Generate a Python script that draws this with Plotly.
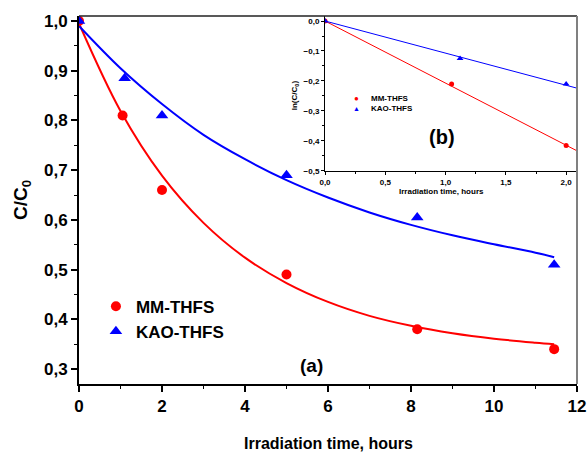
import plotly.graph_objects as go

# ---- main panel (a) data ----
time_mm = [0, 1.05, 2.0, 5.0, 8.15, 11.45]
cc0_mm = [1.0, 0.81, 0.66, 0.49, 0.38, 0.34]
time_kao = [0, 1.1, 2.0, 5.0, 8.15, 11.45]
cc0_kao = [1.0, 0.885, 0.81, 0.69, 0.605, 0.51]

fit_time = [0, 1, 2, 3, 4, 5, 6, 7, 8, 9, 10, 11, 11.45]
fit_mm = [0.995, 0.819, 0.689, 0.594, 0.524, 0.473, 0.435, 0.407, 0.387, 0.372, 0.361, 0.353, 0.350]
fit_kao = [0.99, 0.905, 0.833, 0.771, 0.722, 0.68, 0.645, 0.615, 0.59, 0.569, 0.551, 0.534, 0.525]

# ---- inset panel (b) data ----
ln_time_mm = [0, 1.05, 2.0]
ln_mm = [0, -0.21, -0.415]
ln_time_kao = [0, 1.12, 2.0]
ln_kao = [0, -0.125, -0.21]
ln_fit_time = [0, 2.09]
ln_fit_mm = [0, -0.433]
ln_fit_kao = [0, -0.224]

FONT = "Liberation Sans, Arial, sans-serif"
RED = "#ff0000"
BLUE = "#0000ff"

fig = go.Figure()

# main fits
fig.add_trace(go.Scatter(x=fit_time, y=fit_mm, mode="lines", line=dict(color=RED, width=2, shape="spline"),
                         showlegend=False, hoverinfo="skip"))
fig.add_trace(go.Scatter(x=fit_time, y=fit_kao, mode="lines", line=dict(color=BLUE, width=2, shape="spline"),
                         showlegend=False, hoverinfo="skip"))
# main points
fig.add_trace(go.Scatter(x=time_mm, y=cc0_mm, mode="markers", name="MM-THFS",
                         marker=dict(symbol="circle", size=10, color=RED)))
fig.add_trace(go.Scatter(x=time_kao, y=cc0_kao, mode="markers", name="KAO-THFS",
                         marker=dict(symbol="triangle-up", size=11, color=BLUE)))

# inset fits
fig.add_trace(go.Scatter(x=ln_fit_time, y=ln_fit_mm, mode="lines", line=dict(color=RED, width=1),
                         xaxis="x2", yaxis="y2", showlegend=False, hoverinfo="skip"))
fig.add_trace(go.Scatter(x=ln_fit_time, y=ln_fit_kao, mode="lines", line=dict(color=BLUE, width=1),
                         xaxis="x2", yaxis="y2", showlegend=False, hoverinfo="skip"))
fig.add_trace(go.Scatter(x=ln_time_mm, y=ln_mm, mode="markers", marker=dict(symbol="circle", size=5, color=RED),
                         xaxis="x2", yaxis="y2", showlegend=False))
fig.add_trace(go.Scatter(x=ln_time_kao, y=ln_kao, mode="markers", marker=dict(symbol="triangle-up", size=6, color=BLUE),
                         xaxis="x2", yaxis="y2", showlegend=False))

main_tick = dict(family=FONT, size=17, color="black", weight=700)
inset_tick = dict(family=FONT, size=8, color="black", weight=700)

fig.update_layout(
    template="none",
    width=587, height=457,
    margin=dict(l=79, r=10, t=16, b=73, autoexpand=False),
    paper_bgcolor="white", plot_bgcolor="white",
    separators=",.",
    font=dict(family=FONT, color="black"),
    xaxis=dict(domain=[0, 1], range=[0, 12], dtick=2, tick0=0, showgrid=False, zeroline=False,
               automargin=False,
               showline=True, linecolor="black", linewidth=2,
               ticks="outside", ticklen=6, tickwidth=1.5, tickcolor="black",
               minor=dict(dtick=1, ticks="outside", ticklen=3, tickwidth=1.2, tickcolor="black"),
               tickfont=main_tick),
    yaxis=dict(domain=[0, 1], range=[0.2699, 1.0101], dtick=0.1, tick0=0, tickformat=".1f",
               showgrid=False, zeroline=False, automargin=False,
               showline=True, linecolor="black", linewidth=2,
               ticks="outside", ticklen=6, tickwidth=1.5, tickcolor="black",
               minor=dict(dtick=0.05, ticks="outside", ticklen=3, tickwidth=1.2, tickcolor="black"),
               tickfont=main_tick),
    xaxis2=dict(domain=[0.494, 1], range=[0, 2.09], anchor="y2", dtick=0.5, tick0=0, tickformat=".1f",
                showgrid=False, zeroline=False, automargin=False,
                showline=True, linecolor="black", linewidth=1,
                ticks="outside", ticklen=3, tickwidth=1, tickcolor="black",
                minor=dict(dtick=0.25, ticks="outside", ticklen=2, tickwidth=1, tickcolor="black"),
                tickfont=inset_tick),
    yaxis2=dict(domain=[0.579, 1], range=[-0.5, 0.0167], anchor="x2", dtick=0.1, tick0=0, tickformat=".1f",
                showgrid=False, zeroline=False, automargin=False,
                showline=True, linecolor="black", linewidth=1,
                ticks="outside", ticklen=3, tickwidth=1, tickcolor="black",
                minor=dict(dtick=0.05, ticks="outside", ticklen=2, tickwidth=1, tickcolor="black"),
                tickfont=inset_tick),
    legend=dict(x=0.034, y=0.259, xanchor="left", yanchor="top", bgcolor="rgba(0,0,0,0)",
                font=dict(family=FONT, size=17, color="black", weight=700), tracegroupgap=0),
    shapes=[
        dict(type="line", xref="paper", yref="paper", x0=0, x1=1, y0=1, y1=1,
             line=dict(color="#222222", width=1.5)),
        dict(type="line", xref="paper", yref="paper", x0=1, x1=1, y0=0, y1=1,
             line=dict(color="#808080", width=2)),
    ],
)

ann = []
def A(text, x, y, size, angle=0, xanchor="center", color="black", weight=700):
    ann.append(dict(text=text, x=x, y=y, xref="paper", yref="paper", showarrow=False,
                    xanchor=xanchor, yanchor="middle", textangle=angle,
                    font=dict(family=FONT, size=size, color=color, weight=weight)))

A("C/C<sub>0</sub>", -0.1145, 0.5, 19, angle=-90)
A("Irradiation time, hours", 0.5, -0.163, 16)
A("(a)", 0.466, 0.049, 19)
A("(b)", 0.729, 0.671, 20)
A("ln(C/C<sub>0</sub>)", 0.434, 0.785, 8, angle=-90)
A("Irradiation time, hours", 0.727, 0.522, 8)
A("●", 0.558, 0.777, 8, color=RED)
A("MM-THFS", 0.582, 0.777, 8, xanchor="left")
A("▲", 0.558, 0.75, 7, color=BLUE)
A("KAO-THFS", 0.582, 0.75, 8, xanchor="left")
fig.update_layout(annotations=ann)

fig.write_html("out.html", config={"displayModeBar": False},
               post_script="document.body.style.margin='0px';document.body.style.padding='0px';")
